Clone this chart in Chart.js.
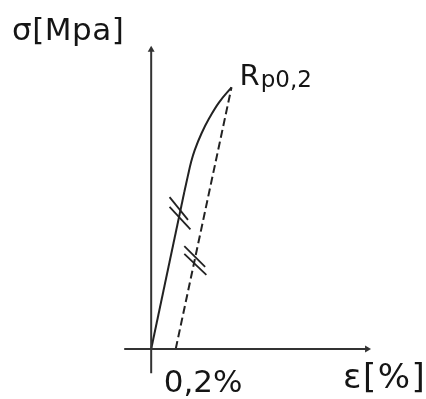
<!DOCTYPE html>
<html>
<head>
<meta charset="utf-8">
<script src="https://cdn.jsdelivr.net/npm/chart.js@4/dist/chart.umd.min.js"></script>
<style>
html,body{margin:0;padding:0;background:#fff;}
#wrap{width:426px;height:399px;}
</style>
</head>
<body>
<div id="wrap"><canvas id="c" width="426" height="399"></canvas></div>
<script>
// strain in %, stress in MPa (schematic)
const elasticStrain = [0, 0.27];
const elasticStress = [0, 180];
const plasticStrain = [0.27, 0.30, 0.325, 0.355, 0.41, 0.475, 0.555, 0.655];
const plasticStress = [180, 199, 214, 228, 247, 265, 283, 300];
const offsetStrain = [0.20, 0.655];
const offsetStress = [0, 300];
const hash1aStrain = [0.15, 0.30], hash1aStress = [174, 148];
const hash1bStrain = [0.15, 0.32], hash1bStress = [163, 137];
const hash2aStrain = [0.27, 0.44], hash2aStress = [118, 94];
const hash2bStrain = [0.27, 0.45], hash2bStress = [109, 85];
const xAxisStrain = [-0.22, 1.76], xAxisStress = [0, 0];
const yAxisStrain = [0, 0], yAxisStress = [-28, 343];
const yLabel = "σ[Mpa]";
const xLabel = "ε[%]";
const offsetLabel = "0,2%";
const pointLabelMain = "R";
const pointLabelSub = "p0,2";

function pts(xs, ys){ return xs.map((x,i)=>({x:x, y:ys[i]})); }

const ink = '#222';
function lineDs(xs, ys, extra){
  return Object.assign({data: pts(xs, ys), showLine: true, borderColor: ink, borderWidth: 2,
    pointRadius: 0, fill: false, tension: 0}, extra||{});
}

const textPlugin = {
  id: 'texts',
  afterDatasetsDraw(chart){
    const ctx = chart.ctx, xs = chart.scales.x, ys = chart.scales.y;
    ctx.save();
    ctx.fillStyle = '#151515';
    ctx.textBaseline = 'alphabetic';
    ctx.textAlign = 'left';
    ctx.font = '31px "DejaVu Sans"';
    ctx.letterSpacing = '0.5px';
    ctx.fillText(yLabel, 12, 40);
    ctx.font = '34px "DejaVu Sans"';
    ctx.letterSpacing = '1.5px';
    ctx.fillText(xLabel, 343, 388);
    ctx.letterSpacing = '0px';
    ctx.font = '31px "DejaVu Sans"';
    ctx.fillText(offsetLabel, xs.getPixelForValue(offsetStrain[0]) - 12, 392);
    const px = xs.getPixelForValue(offsetStrain[1]), py = ys.getPixelForValue(offsetStress[1]);
    ctx.font = '29px "DejaVu Sans"';
    ctx.fillText(pointLabelMain, px + 8, py - 2);
    const w = ctx.measureText(pointLabelMain).width;
    ctx.font = '23px "DejaVu Sans"';
    ctx.fillText(pointLabelSub, px + 9 + w, py + 0);
    ctx.restore();
  }
};

new Chart(document.getElementById('c'), {
  type: 'scatter',
  data: {
    datasets: [
      lineDs(xAxisStrain, xAxisStress, {borderWidth: 2, borderColor: '#333'}),
      lineDs(yAxisStrain, yAxisStress, {borderWidth: 2, borderColor: '#333'}),
      {data: pts([xAxisStrain[1]], [0]), pointStyle: 'triangle', pointRadius: 4, rotation: 90,
        backgroundColor: '#333', borderColor: '#333', borderWidth: 0},
      {data: pts([0], [yAxisStress[1]]), pointStyle: 'triangle', pointRadius: 4, rotation: 0,
        backgroundColor: '#333', borderColor: '#333', borderWidth: 0},
      lineDs(elasticStrain, elasticStress),
      lineDs(plasticStrain, plasticStress, {tension: 0.4}),
      lineDs(offsetStrain, offsetStress, {borderDash: [8, 4]}),
      lineDs(hash1aStrain, hash1aStress, {borderWidth: 1.8}),
      lineDs(hash1bStrain, hash1bStress, {borderWidth: 1.8}),
      lineDs(hash2aStrain, hash2aStress, {borderWidth: 1.8}),
      lineDs(hash2bStrain, hash2bStress, {borderWidth: 1.8})
    ]
  },
  options: {
    responsive: false,
    animation: false,
    layout: {padding: 0},
    plugins: {legend: {display: false}, tooltip: {enabled: false}, title: {display: false}},
    scales: {
      x: {type: 'linear', min: -1.2, max: 2.208, display: false},
      y: {type: 'linear', min: -52.8, max: 395.5, display: false}
    }
  },
  plugins: [textPlugin]
});
</script>
</body>
</html>
